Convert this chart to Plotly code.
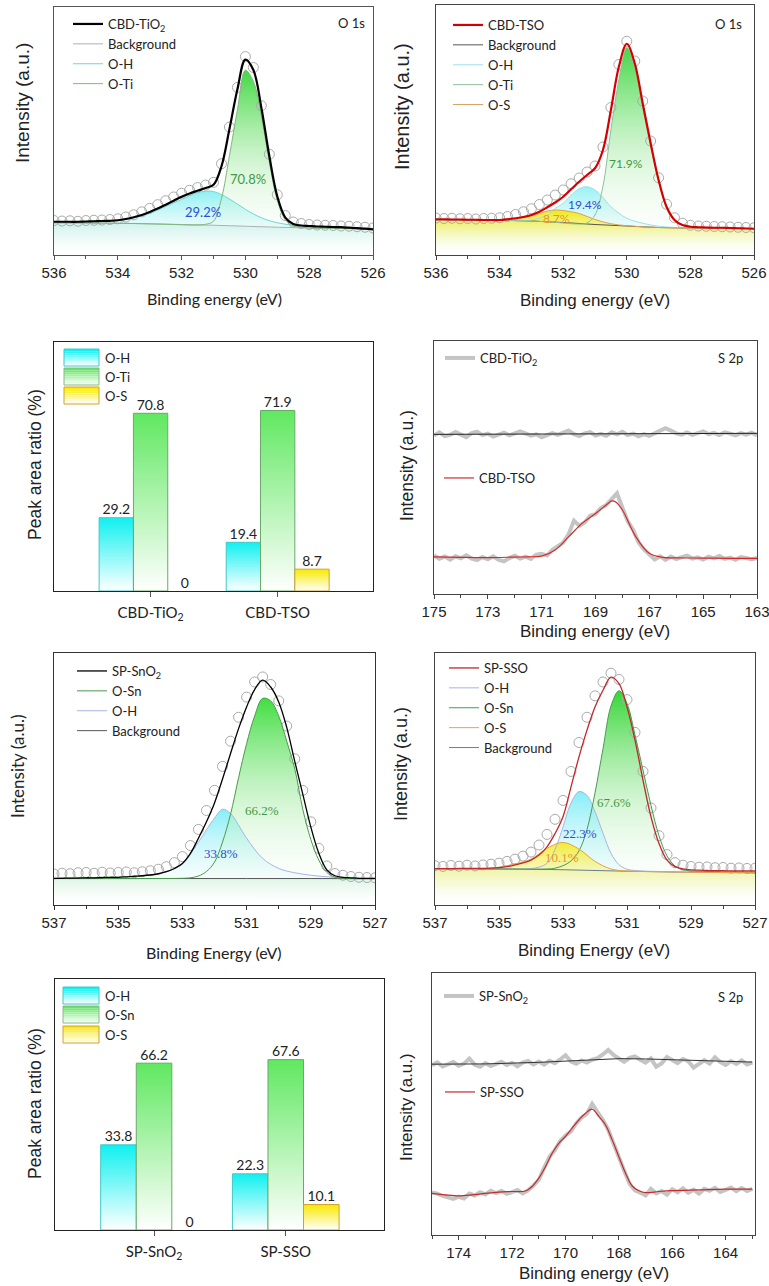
import plotly.graph_objects as go

W, H = 769, 1286

# ======================= DATA =======================
# (a) CBD-TiO2, O 1s
a_E = [536 - 0.25 * i for i in range(41)]
a_fit = [13.4, 13.4, 13.4, 13.4, 13.5, 13.6, 13.7, 13.8, 14.0, 14.5,
         15.2, 16.1, 17.3, 18.7, 20.3, 21.9, 23.5, 24.8, 25.9, 27.0,
         28.3, 35.8, 50.8, 66.8, 78.8, 74.6, 59.4, 39.9, 23.6, 15.1,
         12.5, 11.9, 11.7, 11.5, 11.4, 11.3, 11.2, 11.0, 10.8, 10.6, 10.3]
a_raw = [13.9, 13.7, 13.8, 13.6, 13.9, 14.0, 14.1, 14.3, 14.6, 15.3,
         16.2, 17.4, 18.8, 20.3, 21.9, 23.4, 24.9, 26.1, 27.2, 28.2,
         29.3, 36.8, 51.6, 67.6, 80.0, 75.6, 60.2, 40.6, 24.3, 15.9,
         13.3, 12.7, 12.3, 12.1, 12.0, 11.9, 11.7, 11.6, 11.4, 11.2, 10.9]
a_bg_E = [536, 535, 534, 533, 532, 531, 530, 529, 528, 527, 526]
a_bg = [13.0, 12.9, 12.8, 12.6, 12.3, 12.0, 11.6, 11.2, 10.9, 10.7, 10.4]
a_oh_E = [536 - 0.5 * i for i in range(21)]
a_oh = [13.2, 13.2, 13.3, 13.5, 13.9, 15.0, 16.8, 19.6, 22.4, 25.2,
        25.6, 22.6, 18.4, 15.0, 13.0, 12.0, 11.6, 11.4, 11.2, 10.9, 10.5]
a_oti_E = [536, 534, 532.5, 531.5, 531.25, 531.0, 530.75, 530.5, 530.25, 530.0,
           529.75, 529.5, 529.25, 529.0, 528.75, 528.5, 528.25, 528.0, 527, 526]
a_oti = [13.0, 12.8, 12.4, 12.1, 12.4, 13.6, 22.8, 40.0, 58.5, 74.5,
         70.0, 56.0, 37.5, 22.0, 14.2, 11.7, 11.2, 10.9, 10.7, 10.4]
a_pct = ["70.8%", "29.2%"]

# (b) CBD-TSO, O 1s
b_E = [536 - 0.25 * i for i in range(41)]
b_fit = [14.3, 14.3, 14.2, 14.2, 14.1, 14.1, 14.0, 14.0, 14.0, 14.3,
         14.7, 15.2, 16.0, 17.3, 19.1, 21.0, 23.3, 26.3, 29.3, 32.0,
         34.7, 42.0, 58.0, 75.3, 84.5, 76.7, 60.7, 44.7, 30.0, 19.3,
         14.0, 12.0, 11.3, 11.1, 11.0, 10.9, 10.9, 10.8, 10.7, 10.6, 10.5]
b_raw = [14.8, 14.6, 14.7, 14.5, 14.6, 14.4, 14.6, 14.7, 14.9, 15.4,
         16.2, 17.3, 18.5, 20.2, 22.0, 24.0, 26.0, 28.5, 30.8, 33.2,
         35.6, 43.2, 59.0, 76.2, 85.5, 77.6, 61.6, 45.6, 30.9, 20.3,
         14.9, 12.7, 11.9, 11.6, 11.5, 11.4, 11.3, 11.2, 11.1, 11.0, 10.9]
b_bg_E = [536, 535, 534, 533, 532, 531, 530, 529, 528, 527, 526]
b_bg = [14.0, 14.0, 13.9, 13.6, 13.0, 12.2, 11.6, 11.0, 10.8, 10.7, 10.6]
b_os_E = [536, 535, 534.5, 534, 533.5, 533, 532.5, 532.25, 532, 531.5,
          531, 530.5, 530, 529.5, 529, 528, 527, 526]
b_os = [14.0, 14.0, 14.0, 14.1, 14.6, 15.6, 17.6, 18.0, 17.8, 16.6,
        14.2, 12.5, 11.7, 11.3, 11.0, 10.8, 10.7, 10.6]
b_oh_E = [536, 535, 534, 533.5, 533, 532.5, 532.25, 532, 531.75, 531.5, 531.25,
          531, 530.75, 530.5, 530, 529.5, 529, 528.5, 528, 527, 526]
b_oh = [14.0, 14.0, 13.9, 13.8, 14.0, 16.0, 18.7, 20.7, 24.0, 26.5, 27.3,
        26.0, 23.0, 19.3, 14.7, 12.7, 11.5, 11.0, 10.8, 10.7, 10.6]
b_oti_E = [536, 534, 532.5, 531.5, 531.25, 531.0, 530.75, 530.5, 530.25, 530.0,
           529.75, 529.5, 529.25, 529.0, 528.75, 528.5, 528.25, 528.0, 527, 526]
b_oti = [14.0, 13.9, 13.3, 12.4, 12.8, 16.0, 27.5, 50.0, 70.0, 83.0,
         75.0, 59.0, 43.5, 29.5, 19.0, 13.8, 11.9, 11.1, 10.7, 10.6]
b_pct = ["71.9%", "19.4%", "8.7%"]

# (c) peak area ratio, CBD
c_cats = ["CBD-TiO<sub>2</sub>", "CBD-TSO"]
c_oh = [29.2, 19.4]
c_oti = [70.8, 71.9]
c_os = [0, 8.7]

# (d) S 2p, CBD
d_E = [175 - 0.2 * i for i in range(61)]
d_tio2_raw = [62.6, 63.9, 62.4, 62.9, 64.0, 63.1, 62.0, 63.6, 64.2, 62.8,
              63.4, 62.2, 63.0, 63.8, 62.7, 63.3, 64.3, 63.5, 62.6, 63.1,
              61.9, 62.8, 63.6, 62.9, 63.7, 64.6, 63.2, 62.4, 63.5, 64.0,
              62.6, 63.3, 62.5, 63.9, 63.1, 64.1, 62.8, 63.4, 62.3, 63.2,
              62.5, 63.6, 64.4, 65.5, 64.6, 63.5, 63.0, 63.9, 62.9, 63.6,
              64.3, 63.2, 63.7, 62.8, 63.9, 63.4, 62.7, 63.6, 63.0, 63.8,
              62.6]
d_tio2_fit_E = [175, 169, 163]
d_tio2_fit = [63.1, 63.3, 63.5]
d_tso_raw = [15.2, 13.9, 14.8, 13.6, 14.9, 14.1, 15.3, 14.0, 13.4, 14.6,
             13.7, 14.9, 13.5, 12.9, 14.2, 15.1, 14.0, 14.8, 13.9, 15.6,
             15.9, 15.2, 17.5, 18.9, 20.3, 23.6, 29.0, 27.0, 28.3, 30.9,
             31.6, 34.0, 35.2, 37.5, 39.8, 34.1, 28.7, 25.3, 20.4, 17.6,
             15.4, 13.6, 14.9, 13.5, 14.8, 13.8, 14.6, 15.2, 14.0, 14.5,
             13.6, 14.8, 14.1, 15.0, 13.9, 14.4, 13.5, 14.6, 14.2, 13.7,
             14.3]
d_tso_fit_E = [175, 174, 173, 172, 171.5, 171, 170.5, 170, 169.5, 169, 168.5,
               168.4, 168.25, 168, 167.5, 167, 166.5, 166, 165, 164, 163]
d_tso_fit = [14.7, 14.5, 14.4, 14.6, 14.7, 15.0, 17.4, 22.6, 27.9, 31.8, 36.1,
             36.8, 36.4, 33.2, 22.6, 16.1, 14.5, 14.3, 14.2, 14.1, 14.1]

# (e) SP-SnO2, O 1s
e_E = [537 - 0.25 * i for i in range(41)]
e_fit = [10.6, 10.6, 10.7, 10.7, 10.8, 10.8, 10.9, 11.0, 11.0, 11.2,
         11.4, 11.6, 11.9, 12.4, 13.2, 14.5, 16.5, 20.5, 26.5, 33.0,
         40.5, 50.0, 60.1, 70.0, 78.6, 85.5, 89.2, 86.5, 80.6, 70.5,
         57.0, 44.0, 31.0, 20.5, 13.9, 11.6, 11.0, 10.8, 10.6, 10.6, 10.6]
e_raw = [12.3, 12.6, 12.4, 12.8, 12.9, 12.6, 13.0, 12.7, 12.9, 13.1,
         12.8, 13.2, 13.6, 14.2, 15.2, 16.8, 19.2, 23.6, 30.0, 37.5,
         45.5, 55.0, 65.0, 74.5, 82.5, 88.5, 90.5, 87.5, 81.0, 71.0,
         58.0, 45.5, 33.0, 22.5, 15.5, 12.5, 11.8, 11.3, 11.0, 10.9, 10.8]
e_bg_E = [537, 535, 533, 531, 529, 527]
e_bg = [10.5, 10.5, 10.5, 10.5, 10.5, 10.4]
e_oh_E = [537, 536, 535, 534.5, 534, 533.5, 533, 532.5, 532, 531.75,
          531.5, 531, 530.5, 530, 529.5, 529, 528.5, 528, 527]
e_oh = [10.6, 10.8, 11.0, 11.4, 11.9, 13.2, 16.3, 25.0, 34.5, 38.0,
        36.3, 26.5, 18.5, 14.5, 12.8, 11.8, 11.2, 10.8, 10.5]
e_osn_E = [537, 534, 533, 532.75, 532.5, 532.25, 532, 531.75, 531.5, 531.25,
           531, 530.75, 530.5, 530.25, 530, 529.75, 529.5, 529.25, 529, 528.75,
           528.5, 528.25, 528, 527]
e_osn = [10.5, 10.5, 10.6, 10.8, 11.5, 13.3, 17.0, 25.0, 36.0, 50.5,
         64.0, 75.0, 82.0, 81.0, 75.0, 65.0, 54.0, 38.0, 26.0, 17.8,
         12.9, 11.1, 10.6, 10.5]
e_pct = ["66.2%", "33.8%"]

# (f) SP-SSO, O 1s
f_E = [537 - 0.25 * i for i in range(41)]
f_fit = [14.4, 14.4, 14.4, 14.5, 14.5, 14.5, 14.5, 14.6, 14.8, 15.2,
         15.9, 16.7, 17.8, 19.8, 23.1, 28.3, 35.0, 46.9, 58.8, 69.4,
         78.6, 85.2, 90.4, 87.8, 78.6, 65.4, 49.5, 35.0, 24.4, 17.8,
         15.2, 14.3, 13.9, 13.8, 13.7, 13.6, 13.6, 13.5, 13.5, 13.5, 13.5]
f_raw = [15.6, 15.3, 15.7, 15.4, 15.8, 15.5, 15.9, 16.2, 16.6, 17.3,
         18.2, 19.4, 21.0, 23.8, 28.0, 34.0, 41.5, 53.0, 64.5, 74.5,
         83.0, 88.5, 92.0, 89.5, 81.5, 68.5, 53.0, 38.5, 27.5, 20.0,
         16.8, 15.8, 15.3, 15.0, 15.1, 14.8, 14.9, 14.6, 14.7, 14.5, 14.6]
f_bg_E = [537, 535, 533, 531, 529, 527]
f_bg = [14.4, 14.3, 14.0, 13.4, 13.0, 12.8]
f_os_E = [537, 536, 535.5, 535, 534.5, 534, 533.5, 533, 532.5, 532,
          531.5, 531, 530.5, 530, 529, 528, 527]
f_os = [14.4, 14.4, 14.5, 15.0, 16.3, 18.2, 22.5, 24.8, 22.2, 17.3,
        14.3, 13.5, 13.3, 13.2, 13.0, 12.9, 12.8]
f_oh_E = [537, 535, 534, 533.5, 533.25, 533, 532.75, 532.5, 532.25, 532,
          531.75, 531.5, 531.25, 531, 530.5, 530, 529, 527]
f_oh = [14.4, 14.3, 14.4, 16.5, 22.0, 31.0, 40.5, 45.0, 43.5, 37.0,
        28.5, 20.5, 16.0, 14.2, 13.5, 13.3, 13.0, 12.8]
f_osn_E = [537, 535, 533.5, 533.25, 533, 532.75, 532.5, 532.25, 532, 531.75,
           531.5, 531.25, 531, 530.75, 530.5, 530.25, 530, 529.75, 529.5, 529.25,
           529, 528.5, 527]
f_osn = [14.4, 14.3, 14.3, 14.6, 15.6, 17.5, 21.5, 30.0, 44.5, 62.0,
         79.0, 85.0, 80.0, 67.5, 53.5, 39.5, 27.5, 19.5, 15.5, 14.0,
         13.5, 13.3, 12.8]
f_pct = ["67.6%", "22.3%", "10.1%"]

# (g) peak area ratio, SP
g_cats = ["SP-SnO<sub>2</sub>", "SP-SSO"]
g_oh = [33.8, 22.3]
g_osn = [66.2, 67.6]
g_os = [0, 10.1]

# (h) S 2p, SP
h_E = [175 - 0.2 * i for i in range(61)]
h_sno2_raw = [64.8, 65.9, 64.3, 65.1, 66.0, 64.6, 65.4, 67.3, 65.0, 64.2,
              65.6, 64.5, 65.2, 66.1, 64.9, 65.7, 64.4, 65.8, 66.4, 65.1,
              66.2, 65.0, 66.5, 65.6, 67.0, 68.6, 66.3, 65.4, 66.6, 65.8,
              66.9, 67.5, 68.9, 70.6, 68.7, 67.2, 66.1, 67.6, 68.2, 66.9,
              65.8, 67.4, 64.2, 65.5, 67.9, 66.8, 65.6, 67.2, 66.3, 63.9,
              65.2, 66.7, 65.4, 67.8, 66.0, 64.9, 66.4, 65.3, 66.6, 65.1,
              65.8]
h_sno2_fit_E = [175, 173, 171, 169, 168, 167, 165, 163]
h_sno2_fit = [65.2, 65.3, 65.9, 66.8, 67.3, 67.2, 66.7, 66.0]
h_sso_raw = [16.2, 15.8, 14.9, 14.2, 13.8, 14.6, 13.9, 15.8, 15.1, 16.3,
             15.5, 16.9, 16.0, 16.8, 15.7, 16.4, 17.2, 15.9, 17.0, 18.9,
             21.0, 25.6, 29.8, 32.4, 35.8, 38.0, 39.5, 42.6, 44.8, 46.2,
             50.0, 46.9, 44.0, 40.2, 34.8, 29.2, 24.5, 19.6, 17.0, 16.2,
             15.1, 17.6, 15.9, 16.8, 15.4, 17.5, 16.3, 17.8, 16.1, 17.3,
             15.8, 17.6, 16.9, 18.0, 16.4, 17.2, 18.1, 16.7, 17.9, 16.8,
             17.6]
h_sso_fit_E = [175, 174.5, 174, 173.5, 173, 172.5, 172, 171.5, 171.25, 171,
               170.75, 170.5, 170.25, 170, 169.75, 169.5, 169.25, 169, 168.75, 168.5,
               168.25, 168, 167.75, 167.5, 167.25, 167, 166.5, 166, 165, 164, 163]
h_sso_fit = [15.9, 15.3, 14.9, 15.3, 15.9, 16.4, 16.6, 16.8, 18.5, 21.7,
             26.1, 31.2, 35.0, 37.6, 40.8, 43.9, 46.5, 48.0, 45.2, 42.0,
             36.3, 29.9, 23.6, 18.7, 16.9, 16.2, 16.6, 16.9, 17.2, 17.5, 17.5]

# ======================= STYLE =======================
TICKF = "Liberation Sans Narrow, Liberation Sans, Arial, sans-serif"
ARIAL = "Liberation Sans, Arial, sans-serif"
CAL = "Lato, Open Sans, sans-serif"
SERIF = "Liberation Serif, Times New Roman, serif"
INK = "#222222"
GREEN_T, BLUE_T, ORANGE_T = "#3f9a3f", "#2f4fd0", "#e8972a"


def PX(x):
    return min(1.0, max(0.0, x / W))


def PY(y):
    return min(1.0, max(0.0, 1 - y / H))


def ax(n, k):
    return k if n == 1 else f"{k}{n}"


fig = go.Figure()


def grad(top, mid):
    return [[0, "rgba(255,255,255,0)"], [0.5, mid], [1, top]]


def fill(n, E, Y, top, mid):
    fig.add_trace(go.Scatter(
        x=E, y=Y, xaxis=ax(n, "x"), yaxis=ax(n, "y"), mode="lines",
        line=dict(width=0, shape="spline", smoothing=1), fill="tozeroy",
        fillgradient=dict(type="vertical", colorscale=grad(top, mid), start=0, stop=max(Y)),
        showlegend=False, hoverinfo="skip"))


def line(n, E, Y, color, width=1.0, name=None, legend="legend", rank=1000, shape="spline"):
    ln = dict(color=color, width=width, shape=shape)
    if shape == "spline":
        ln["smoothing"] = 1
    fig.add_trace(go.Scatter(
        x=E, y=Y, xaxis=ax(n, "x"), yaxis=ax(n, "y"), mode="lines", line=ln,
        name=name, showlegend=name is not None, legend=legend, legendrank=rank,
        hoverinfo="skip"))


def circles(n, E, Y):
    fig.add_trace(go.Scatter(
        x=E, y=Y, xaxis=ax(n, "x"), yaxis=ax(n, "y"), mode="markers",
        marker=dict(symbol="circle-open", size=10, color="#aaaaaa", line=dict(width=1)),
        showlegend=False, hoverinfo="skip"))


def pct(n, s, x, y, color, family, size):
    fig.add_annotation(x=x, y=y, xref=ax(n, "x"), yref=ax(n, "y"), text=s, showarrow=False,
                       font=dict(family=family, size=size, color=color))


# ---------- (a) ----------
fill(1, a_bg_E, a_bg, "rgba(200,235,225,0.75)", "rgba(225,244,238,0.45)")
fill(1, a_oh_E, a_oh, "rgba(130,238,242,0.9)", "rgba(190,245,245,0.45)")
fill(1, a_oti_E, a_oti, "rgba(55,215,55,0.95)", "rgba(175,236,175,0.55)")
circles(1, a_E, a_raw)
line(1, a_bg_E, a_bg, "#b0b0b0", 1, "Background", "legend", 2)
line(1, a_oh_E, a_oh, "#74d4d4", 1, "O-H", "legend", 3)
line(1, a_oti_E, a_oti, "#7db87d", 1, "O-Ti", "legend", 4)
line(1, a_E, a_fit, "#000000", 2.2, "CBD-TiO<sub>2</sub>", "legend", 1)
pct(1, a_pct[0], 529.92, 30.6, GREEN_T, CAL, 13)
pct(1, a_pct[1], 531.33, 17.3, BLUE_T, CAL, 13)

# ---------- (b) ----------
fill(2, b_bg_E, b_bg, "rgba(238,245,170,0.85)", "rgba(246,250,215,0.5)")
fill(2, b_oh_E, b_oh, "rgba(140,240,245,0.9)", "rgba(195,245,245,0.45)")
fill(2, b_oti_E, b_oti, "rgba(55,215,55,0.95)", "rgba(175,236,175,0.55)")
fill(2, b_os_E, b_os, "rgba(245,232,0,0.95)", "rgba(248,245,150,0.6)")
circles(2, b_E, b_raw)
line(2, b_bg_E, b_bg, "#555555", 1, "Background", "legend2", 2)
line(2, b_oh_E, b_oh, "#9fe0ea", 1, "O-H", "legend2", 3)
line(2, b_oti_E, b_oti, "#8fbf9f", 1, "O-Ti", "legend2", 4)
line(2, b_os_E, b_os, "#d9a060", 1, "O-S", "legend2", 5)
line(2, b_E, b_fit, "#d40000", 2.2, "CBD-TSO", "legend2", 1)
pct(2, b_pct[0], 530.03, 36.7, GREEN_T, CAL, 12)
pct(2, b_pct[1], 531.31, 20.3, BLUE_T, CAL, 12)
pct(2, b_pct[2], 532.2, 14.7, ORANGE_T, CAL, 12)

# ---------- bar panels ----------
BW = 0.27
OFFS = [-0.27, 0.0, 0.27]


def bars(n, vals, off, top, edge):
    for i, v in enumerate(vals):
        if v <= 0:
            continue
        x0, x1 = i + off - BW / 2, i + off + BW / 2
        fig.add_trace(go.Scatter(
            x=[x0, x0, x1, x1, x0], y=[0, v, v, 0, 0], xaxis=ax(n, "x"), yaxis=ax(n, "y"),
            mode="lines", fill="toself", line=dict(color=edge, width=1),
            fillgradient=dict(type="vertical", colorscale=[[0, "#ffffff"], [1, top]], start=0, stop=v),
            showlegend=False, hoverinfo="skip"))
    fig.add_trace(go.Scatter(
        x=[i + off for i in range(len(vals))], y=vals, xaxis=ax(n, "x"), yaxis=ax(n, "y"),
        mode="text", text=[f"{v}" for v in vals], textposition="top center",
        textfont=dict(family=CAL, size=14, color=INK), showlegend=False, hoverinfo="skip"))


bars(3, c_oh, OFFS[0], "#10f0f0", "#40c8c8")
bars(3, c_oti, OFFS[1], "#60e860", "#6aa86a")
bars(3, c_os, OFFS[2], "#f8ea00", "#d4a030")
bars(7, g_oh, OFFS[0], "#10f0f0", "#40c8c8")
bars(7, g_osn, OFFS[1], "#60e860", "#6aa86a")
bars(7, g_os, OFFS[2], "#f8ea00", "#d4a030")

# ---------- (d) ----------
line(4, d_E, d_tio2_raw, "#c4c4c4", 4, "CBD-TiO<sub>2</sub>", "legend3", 1, "linear")
line(4, d_tio2_fit_E, d_tio2_fit, "#222222", 1, None, "legend3", 2, "linear")
line(4, d_E, d_tso_raw, "#c4c4c4", 4, None, "legend4", 2, "linear")
line(4, d_tso_fit_E, d_tso_fit, "#d42a2a", 1.2, "CBD-TSO", "legend4", 1)

# ---------- (e) ----------
fill(5, e_bg_E, e_bg, "rgba(215,240,215,0.8)", "rgba(235,248,235,0.5)")
fill(5, e_oh_E, e_oh, "rgba(120,236,246,0.9)", "rgba(190,245,248,0.5)")
fill(5, e_osn_E, e_osn, "rgba(55,220,55,0.95)", "rgba(175,238,175,0.55)")
circles(5, e_E, e_raw)
line(5, e_bg_E, e_bg, "#555555", 1, "Background", "legend5", 4)
line(5, e_oh_E, e_oh, "#a9b3e6", 1, "O-H", "legend5", 3)
line(5, e_osn_E, e_osn, "#4a9a4a", 1, "O-Sn", "legend5", 2)
line(5, e_E, e_fit, "#000000", 1.3, "SP-SnO<sub>2</sub>", "legend5", 1)
pct(5, e_pct[0], 530.53, 37.4, GREEN_T, SERIF, 13)
pct(5, e_pct[1], 531.81, 20.5, BLUE_T, SERIF, 13)

# ---------- (f) ----------
fill(6, f_bg_E, f_bg, "rgba(242,242,175,0.85)", "rgba(248,248,215,0.5)")
fill(6, f_osn_E, f_osn, "rgba(45,212,45,0.95)", "rgba(170,236,170,0.55)")
fill(6, f_oh_E, f_oh, "rgba(120,236,246,0.9)", "rgba(190,245,248,0.5)")
fill(6, f_os_E, f_os, "rgba(245,235,40,0.95)", "rgba(248,245,160,0.6)")
circles(6, f_E, f_raw)
line(6, f_bg_E, f_bg, "#6a7d96", 1, "Background", "legend6", 5)
line(6, f_oh_E, f_oh, "#a9b3e6", 1, "O-H", "legend6", 2)
line(6, f_osn_E, f_osn, "#4a9a5a", 1, "O-Sn", "legend6", 3)
line(6, f_os_E, f_os, "#e6a24a", 1, "O-S", "legend6", 4)
line(6, f_E, f_fit, "#c0282c", 1.3, "SP-SSO", "legend6", 1)
pct(6, f_pct[0], 531.42, 40.6, GREEN_T, SERIF, 13)
pct(6, f_pct[1], 532.46, 28.4, BLUE_T, SERIF, 13)
pct(6, f_pct[2], 533.04, 18.8, ORANGE_T, SERIF, 13)

# ---------- (h) ----------
line(8, h_E, h_sno2_raw, "#c4c4c4", 4, "SP-SnO<sub>2</sub>", "legend7", 1, "linear")
line(8, h_sno2_fit_E, h_sno2_fit, "#333333", 1, None, "legend7", 2, "linear")
line(8, h_E, h_sso_raw, "#c4c4c4", 4, None, "legend8", 2, "linear")
line(8, h_sso_fit_E, h_sso_fit, "#c42a2a", 1.2, "SP-SSO", "legend8", 1)

# ======================= LAYOUT =======================
layout = dict(width=W, height=H, margin=dict(l=0, r=0, t=0, b=0, autoexpand=False),
              paper_bgcolor="white", plot_bgcolor="white", showlegend=True,
              hovermode=False)


def spec_axes(n, x0, x1, top, bot, xr, tick0, frame="#444444"):
    layout[ax(n, "xaxis")] = dict(
        domain=[PX(x0), PX(x1)], range=xr, anchor=ax(n, "y"), tick0=tick0, dtick=2,
        ticks="outside", ticklen=4, tickcolor=frame, tickwidth=1,
        minor=dict(dtick=1, ticks="outside", ticklen=3, tickcolor=frame),
        showline=True, linecolor=frame, linewidth=1, mirror=True, automargin=False,
        ticklabeloverflow="allow",
        showgrid=False, zeroline=False, tickfont=dict(family=TICKF, size=15, color=INK))
    layout[ax(n, "yaxis")] = dict(
        domain=[PY(bot), PY(top)], range=[0, 100], anchor=ax(n, "x"), automargin=False,
        showticklabels=False, ticks="", showline=True, linecolor=frame, linewidth=1,
        mirror=True, showgrid=False, zeroline=False)


def bar_axes(n, x0, x1, top, bot, xr, yr, cats):
    layout[ax(n, "xaxis")] = dict(
        domain=[PX(x0), PX(x1)], range=xr, anchor=ax(n, "y"), tickvals=[0, 1], ticktext=cats,
        ticks="outside", ticklen=5, tickcolor="#555", showline=True, linecolor="#222",
        linewidth=1, mirror=True, showgrid=False, zeroline=False, ticklabelstandoff=3,
        automargin=False, tickfont=dict(family=CAL, size=15, color=INK))
    layout[ax(n, "yaxis")] = dict(
        domain=[PY(bot), PY(top)], range=yr, anchor=ax(n, "x"), showticklabels=False,
        ticks="", showline=True, linecolor="#222", linewidth=1, mirror=True,
        automargin=False, showgrid=False, zeroline=False)


spec_axes(1, 54, 373, 7, 255, [536, 526], 536, "#555555")
spec_axes(2, 436, 754, 5, 255, [536, 526], 536, "#444444")
bar_axes(3, 54, 373, 342, 591, [-0.76, 1.75], [0, 99.2], c_cats)
spec_axes(4, 434, 757, 341, 594, [175, 163], 175, "#444444")
spec_axes(5, 54, 375, 653, 905, [537, 527], 537, "#333333")
spec_axes(6, 435, 755, 653, 905, [537, 527], 537, "#444444")
bar_axes(7, 55, 384, 979, 1230, [-0.752, 1.746], [0, 99.6], g_cats)
spec_axes(8, 432, 755, 973, 1235, [175, 162.9], 174, "#444444")


def leg(x, y):
    return dict(x=PX(x), y=PY(y), xanchor="left", yanchor="top", bgcolor="rgba(0,0,0,0)",
                borderwidth=0, font=dict(family=CAL, size=13, color=INK), itemwidth=30,
                tracegroupgap=0, traceorder="normal")


layout["legend"] = leg(68, 9)
layout["legend2"] = leg(448, 10)
layout["legend3"] = leg(440, 343)
layout["legend4"] = leg(439, 463)
layout["legend5"] = leg(72, 656)
layout["legend6"] = leg(444, 653)
layout["legend7"] = leg(439, 981)
layout["legend8"] = leg(440, 1077)

# bar legends (swatches + text)
shapes = []
annots = []


def mix(c, t):
    return "rgb(%d,%d,%d)" % tuple(round(ci + (255 - ci) * t) for ci in c)


def swatch(x0, x1, y0, y1, rgb, edge, label):
    n = 8
    for k in range(n):
        ya = y0 + (y1 - y0) * k / n
        yb = y0 + (y1 - y0) * (k + 1) / n
        shapes.append(dict(type="rect", xref="paper", yref="paper", x0=PX(x0), x1=PX(x1),
                           y0=PY(yb), y1=PY(ya), fillcolor=mix(rgb, 0.95 * k / (n - 1)),
                           line=dict(width=0), layer="above"))
    shapes.append(dict(type="rect", xref="paper", yref="paper", x0=PX(x0), x1=PX(x1),
                       y0=PY(y1), y1=PY(y0), line=dict(color=edge, width=1), layer="above"))
    annots.append(dict(x=PX(x1 + 4), y=PY((y0 + y1) / 2), xref="paper", yref="paper",
                       text=label, showarrow=False, xanchor="left", yanchor="middle",
                       font=dict(family=CAL, size=13, color=INK)))


CY, GR, YE = (16, 240, 240), (96, 232, 96), (248, 234, 0)
swatch(64, 99, 349, 366, CY, "#40c8c8", "O-H")
swatch(64, 99, 368, 385, GR, "#8ab88a", "O-Ti")
swatch(64, 99, 387, 404, YE, "#d4a030", "O-S")
swatch(63, 99, 987, 1004, CY, "#40c8c8", "O-H")
swatch(63, 99, 1006, 1023, GR, "#8ab88a", "O-Sn")
swatch(63, 99, 1026, 1043, YE, "#d4a030", "O-S")


def txt(x, y, s, fam, size, angle=0, xanchor="center"):
    annots.append(dict(x=PX(x), y=PY(y), xref="paper", yref="paper", text=s, showarrow=False,
                       textangle=angle, xanchor=xanchor, yanchor="middle",
                       font=dict(family=fam, size=size, color=INK)))


# y-axis titles
txt(22, 103, "Intensity (a.u.)", ARIAL, 19, -90)
txt(402, 107, "Intensity (a.u.)", ARIAL, 20, -90)
txt(35, 465, "Peak area ratio (%)", ARIAL, 17.5, -90)
txt(407, 466, "Intensity (a.u.)", ARIAL, 17.5, -90)
txt(17, 767, "Intensity (a.u.)", CAL, 17, -90)
txt(401, 764, "Intensity (a.u.)", ARIAL, 18, -90)
txt(35, 1104, "Peak area ratio (%)", ARIAL, 17.5, -90)
txt(406, 1107, "Intensity (a.u.)", ARIAL, 17, -90)
# x-axis titles
txt(214, 299, "Binding energy (eV)", CAL, 16)
txt(595, 300, "Binding energy (eV)", ARIAL, 17)
txt(595, 632, "Binding energy (eV)", ARIAL, 17)
txt(214, 952, "Binding Energy (eV)", CAL, 16)
txt(594, 950, "Binding Energy (eV)", ARIAL, 17)
txt(594, 1273, "Binding energy (eV)", ARIAL, 17)
# region tags
txt(367, 23, "O 1s", CAL, 13, 0, "right")
txt(744, 24, "O 1s", CAL, 13, 0, "right")
txt(745, 358, "S 2p", CAL, 13, 0, "right")
txt(745, 997, "S 2p", CAL, 13, 0, "right")

layout["shapes"] = shapes
fig.update_layout(**layout)
for a in annots:
    fig.add_annotation(**a)

# let the figure sit flush in the window (no default body margin / scrollbars)
PAGE_CSS = ("document.documentElement.style.margin='0';"
            "document.body.style.margin='0';"
            "document.documentElement.style.overflow='hidden';"
            "document.body.style.overflow='hidden';")
fig.write_html("out.html", post_script=PAGE_CSS,
               config={"displayModeBar": False, "displaylogo": False})
